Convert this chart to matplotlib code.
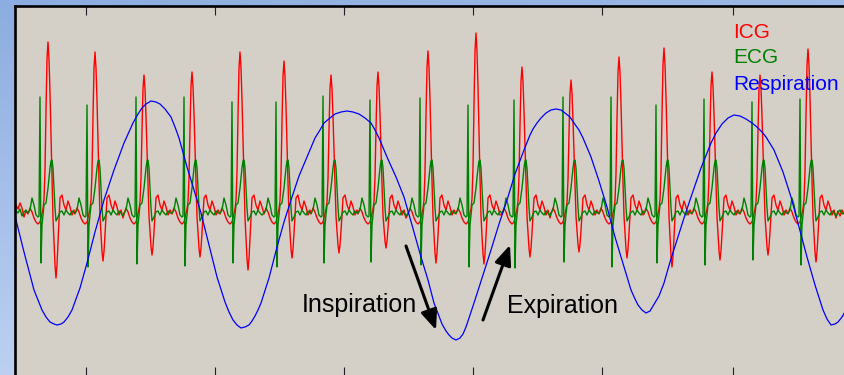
import matplotlib
matplotlib.use('Agg')  # no GUI
import matplotlib.pyplot as plt
import numpy as np

plt.rcParams['font.family'] = ['Liberation Sans', 'DejaVu Sans']

# time in samples, amplitude in arbitrary units (0 = baseline)

# respiration trace
resp_t = [14, 24, 34, 42, 46, 50, 54, 57, 61, 64, 68, 72, 80, 87, 95, 104, 114,
          124, 129, 133, 138, 142, 146, 151, 156, 160, 165, 171, 175, 179, 187, 194, 201,
          209, 217, 225, 229, 233, 237, 241, 245, 249, 252, 255, 258, 261, 269, 277, 284,
          291, 299, 307, 315, 320, 324, 330, 335, 341, 347, 353, 359, 365, 371, 375, 379,
          387, 396, 404, 412, 421, 428, 434, 442, 446, 449, 452, 456, 460, 463, 466, 469,
          474, 482, 491, 499, 507, 515, 524, 530, 533, 537, 541, 546, 551, 556, 561, 565,
          570, 574, 579, 583, 591, 599, 607, 615, 624, 631, 635, 638, 642, 646, 650, 653,
          656, 659, 664, 670, 677, 684, 691, 701, 711, 716, 722, 728, 734, 740, 746, 752,
          757, 762, 766, 774, 783, 791, 799, 807, 815, 823, 827, 831, 835, 838, 842, 846]
resp_v = [1, -39, -77, -97, -104, -109, -111, -112, -111, -109, -104, -97, -75, -50, -19, 13, 43,
          70, 81, 90, 99, 105, 109, 112, 111, 109, 104, 96, 86, 75, 46, 23, 0,
          -32, -64, -89, -99, -107, -112, -115, -114, -112, -108, -103, -97, -90, -65, -34, -9,
          13, 37, 56, 75, 83, 90, 95, 99, 101, 102, 101, 99, 95, 90, 83, 75,
          56, 36, 16, -12, -44, -67, -90, -111, -118, -122, -125, -127, -125, -121, -114, -105,
          -90, -65, -37, -11, 13, 39, 63, 78, 84, 90, 95, 100, 103, 104, 103, 100,
          96, 90, 83, 75, 56, 32, 6, -24, -54, -77, -86, -92, -97, -100, -98, -93,
          -88, -83, -70, -49, -27, -5, 16, 45, 70, 80, 89, 95, 98, 97, 94, 90,
          86, 81, 76, 63, 41, 16, -14, -44, -72, -97, -106, -112, -111, -109, -104, -97]

# heart beats: time of ECG R wave and the per-beat extremes
beat_t = [40, 87, 136, 184, 232, 276, 323, 370, 420, 468, 514, 563, 611, 656, 704, 752, 800]
ecg_r = [116, 108, 116, 116, 111, 111, 117, 113, 115, 108, 113, 116, 116, 108, 114, 111, 114]
ecg_s = [-50, -54, -51, -53, -50, -54, -50, -49, -52, -54, -55, -49, -54, -50, -52, -47, -52]
icg_peak = [171, 161, 138, 141, 161, 152, 138, 141, 162, 180, 146, 133, 156, 165, 141, 138, 164]
icg_dip = [-65, -48, -42, -44, -57, -45, -40, -35, -50, -51, -44, -39, -45, -54, -47, -42, -49]

# shape of one complex, offsets from the R wave
ecg_off = [-12, -10, -8, -6, -4, -2, -1, 0, 1, 2, 4, 6, 8, 10, 11, 12, 13, 14, 15, 16,
           18, 20, 22, 24, 26, 28, 30, 32, 34, 36, 38, 40, 42, 44, 46]
ecg_base = [0, 3, 15, 8, -2, -4, -3, 0, 0, -12, 8, 10, 25, 45, 52, 53, 45, 26, 5, -8,
            -4, 1, 2, -2, 3, 0, -2, 2, 0, -3, 1, 3, -1, 1, 0]

icg_off = [-12, -10, -8, -6, -4, -2, 0, 2, 3, 4, 5, 6, 7, 8, 9, 10, 11, 12, 13, 14,
           15, 16, 17, 18, 20, 22, 24, 26, 28, 30, 32, 34, 36, 38, 40, 42, 44, 46]
icg_base = [-1, 5, 1, -5, -9, -11, -9, 0, 4, 0, 0, 0, 0, 0, 0, 0, 0, 0, -4, 0,
            0, 0, 0, 0, 15, 18, 8, 3, 12, 6, -2, 3, -5, 2, -3, 3, -1, 0]
icg_up = [0, 0, 0, 0, 0, 0, 0, 0, 0, .08, .25, .6, .9, 1, .9, .7, .45, .2, .05, 0,
          0, 0, 0, 0, 0, 0, 0, 0, 0, 0, 0, 0, 0, 0, 0, 0, 0, 0]
icg_down = [0, 0, 0, 0, 0, 0, 0, 0, 0, 0, 0, 0, 0, 0, 0, 0, 0, 0, .15, .45,
            .8, 1, .8, .45, 0, 0, 0, 0, 0, 0, 0, 0, 0, 0, 0, 0, 0, 0]

# baseline before the first beat
lead_t = [14, 16, 18, 20, 22, 24, 26]
ecg_lead = [1, 2, 0, 4, -3, 1, 3]
icg_lead = [0, 8, 4, 10, 5, -4, 2]

ecg_t, ecg_v = list(lead_t), list(ecg_lead)
icg_t, icg_v = list(lead_t), list(icg_lead)
for i, t0 in enumerate(beat_t):
    end = beat_t[i + 1] - 12 if i + 1 < len(beat_t) else 850
    e = list(ecg_base)
    e[ecg_off.index(0)] = ecg_r[i]
    e[ecg_off.index(1)] = ecg_s[i]
    for o, v in zip(ecg_off, e):
        if t0 + o < end:
            ecg_t.append(t0 + o)
            ecg_v.append(v)
    for o, b, u, d in zip(icg_off, icg_base, icg_up, icg_down):
        if t0 + o < end:
            icg_t.append(t0 + o)
            icg_v.append(b + u * icg_peak[i] + d * icg_dip[i])

fig = plt.figure(figsize=(8.44, 3.75), dpi=100)

# bluish window background
bg = fig.add_axes([0, 0, 1, 1], zorder=0)
yy, xx = np.mgrid[0:1:100j, 0:1:100j]
top = np.array([0.55, 0.68, 0.88])
bot = np.array([0.80, 0.86, 0.97])
grad = top + (bot - top) * (0.75 * yy + 0.25 * xx)[..., None]
bg.imshow(grad, aspect='auto', extent=[0, 1, 0, 1], origin='upper')
bg.axis('off')

ax = fig.add_axes([14.5 / 844, -1 / 375, (846 - 14.5) / 844, 370 / 375], zorder=1)
ax.set_facecolor('#d4d0c8')

ax.plot(icg_t, icg_v, color='#ff0000', lw=1.0)
ax.plot(ecg_t, ecg_v, color='#008000', lw=1.0)
ax.plot(resp_t, resp_v, color='#0000ff', lw=0.9)

ax.set_xlim(14.5, 846)
ax.set_ylim(-163, 207)
ax.set_xticks([86, 215, 344, 473, 602, 733])
ax.set_yticks([])
ax.tick_params(axis='x', direction='in', top=True, bottom=True, length=6.5, width=0.8,
               color='#202020', labelbottom=False, labeltop=False)
for s in ['right', 'bottom']:
    ax.spines[s].set_visible(False)
for s in ['left', 'top']:
    ax.spines[s].set_linewidth(1.9)
    ax.spines[s].set_color('black')

ax.text(733, 175, 'ICG', color='#ff0000', fontsize=15, va='baseline')
ax.text(733, 150, 'ECG', color='#008000', fontsize=15, va='baseline')
ax.text(733, 123, 'Respiration', color='#0000ff', fontsize=15, va='baseline')

ax.text(302, -99, 'Inspiration', color='black', fontsize=18, va='baseline')
ax.text(507, -100, 'Expiration', color='black', fontsize=18, va='baseline')
arrow = dict(arrowstyle='-|>,head_length=0.6,head_width=0.25', color='black', lw=2.2,
             shrinkA=0, shrinkB=0, mutation_scale=20)
ax.annotate('', xy=(436, -117), xytext=(406, -33), arrowprops=arrow)
ax.annotate('', xy=(510, -32), xytext=(483, -107), arrowprops=arrow)

plt.savefig('out.png', dpi=100)
plt.close()
